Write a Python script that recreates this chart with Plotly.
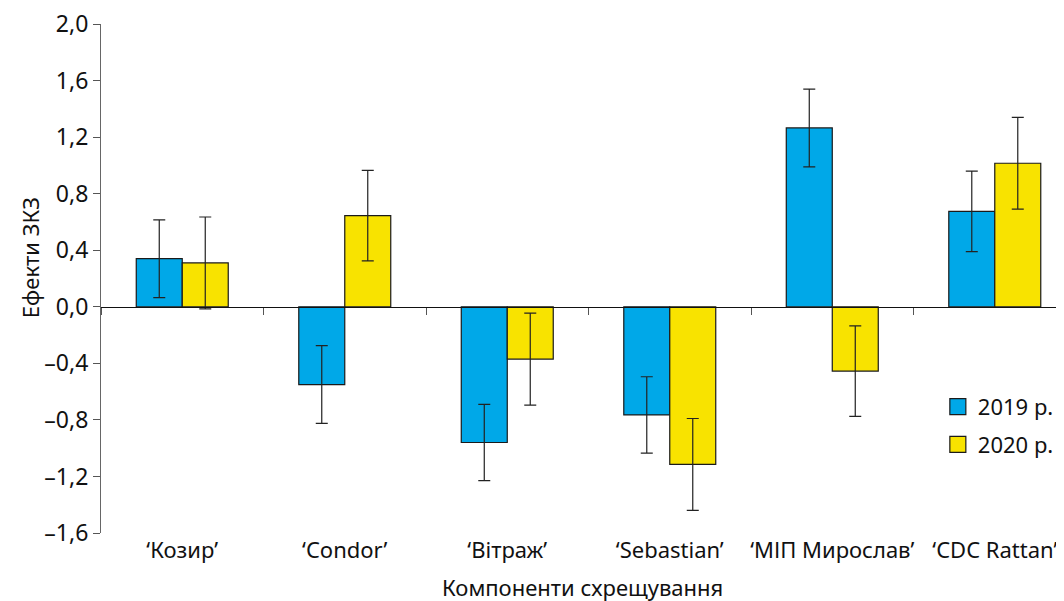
import plotly.graph_objects as go

categories = ["‘Козир’", "‘Condor’", "‘Вітраж’", "‘Sebastian’", "‘МІП Мирослав’", "‘CDC Rattan’"]
series_names = ["2019 р.", "2020 р."]
values_2019 = [0.34, -0.55, -0.96, -0.765, 1.265, 0.675]
errors_2019 = [0.275, 0.275, 0.27, 0.27, 0.275, 0.285]
values_2020 = [0.31, 0.645, -0.37, -1.115, -0.455, 1.015]
errors_2020 = [0.325, 0.32, 0.325, 0.325, 0.32, 0.325]
y_tickvals = [-1.6, -1.2, -0.8, -0.4, 0.0, 0.4, 0.8, 1.2, 1.6, 2.0]
y_ticktext = ["–1,6", "–1,2", "–0,8", "–0,4", "0,0", "0,4", "0,8", "1,2", "1,6", "2,0"]
x_title = "Компоненти схрещування"
y_title = "Ефекти ЗКЗ"

FONT = "Noto Sans"
colors = ["#00A8E8", "#F8E300"]

fig = go.Figure()
for i, (name, vals, errs, col) in enumerate([(series_names[0], values_2019, errors_2019, colors[0]),
                                             (series_names[1], values_2020, errors_2020, colors[1])]):
    fig.add_trace(go.Bar(
        x=categories, y=vals, name=name, showlegend=False,
        marker=dict(color=col, line=dict(color="#1a1a1a", width=1.2)),
        error_y=dict(type="data", array=errs, visible=True, color="#222222", thickness=1.2, width=6),
    ))
    # legend entry with a larger square swatch
    fig.add_trace(go.Scatter(
        x=[None], y=[None], name=name, mode="markers", legendgroup=f"g{i}",
        marker=dict(symbol="square", size=16, color=col, line=dict(color="#1a1a1a", width=1.2)),
    ))

fig.update_layout(
    width=1056, height=593,
    margin=dict(l=93, r=0, t=16, b=68),
    barmode="group", bargap=0.434, bargroupgap=0,
    plot_bgcolor="white", paper_bgcolor="white",
    font=dict(family=FONT, size=22, color="#111111"),
    showlegend=True,
    legend=dict(x=0.869, y=0.289, xanchor="left", yanchor="top",
                font=dict(family=FONT, size=22, color="#111111"),
                bgcolor="rgba(0,0,0,0)", tracegroupgap=6, itemwidth=30),
    xaxis=dict(
        type="category", range=[-0.5, 5.426],
        anchor="free", position=1.6 / 3.6,
        showline=True, linecolor="#111111", linewidth=1.2,
        ticks="outside", ticklen=7, tickcolor="#555555", tickwidth=1,
        tickson="boundaries", ticklabelstandoff=224, tickangle=0, automargin=False,
        ticklabeloverflow="allow",
        tickfont=dict(family=FONT, size=22, color="#111111"),
        showgrid=False, zeroline=False,
    ),
    yaxis=dict(
        range=[-1.6, 2.0], tickvals=y_tickvals, ticktext=y_ticktext,
        showline=True, linecolor="#666666", linewidth=1.2, automargin=False,
        ticklabeloverflow="allow",
        ticks="outside", ticklen=7, tickcolor="#555555", tickwidth=1,
        tickfont=dict(family=FONT, size=23, color="#111111"),
        showgrid=False, zeroline=False,
    ),
    annotations=[
        dict(text=x_title, xref="paper", yref="paper", x=0.5, y=0, yshift=-54,
             xanchor="center", yanchor="middle", showarrow=False,
             font=dict(family=FONT, size=22, color="#111111")),
        dict(text=y_title, xref="paper", yref="paper", x=0, xshift=-71, y=0.54,
             xanchor="center", yanchor="middle", textangle=-90, showarrow=False,
             font=dict(family=FONT, size=22, color="#111111")),
    ],
)

fig.write_html("out.html")
